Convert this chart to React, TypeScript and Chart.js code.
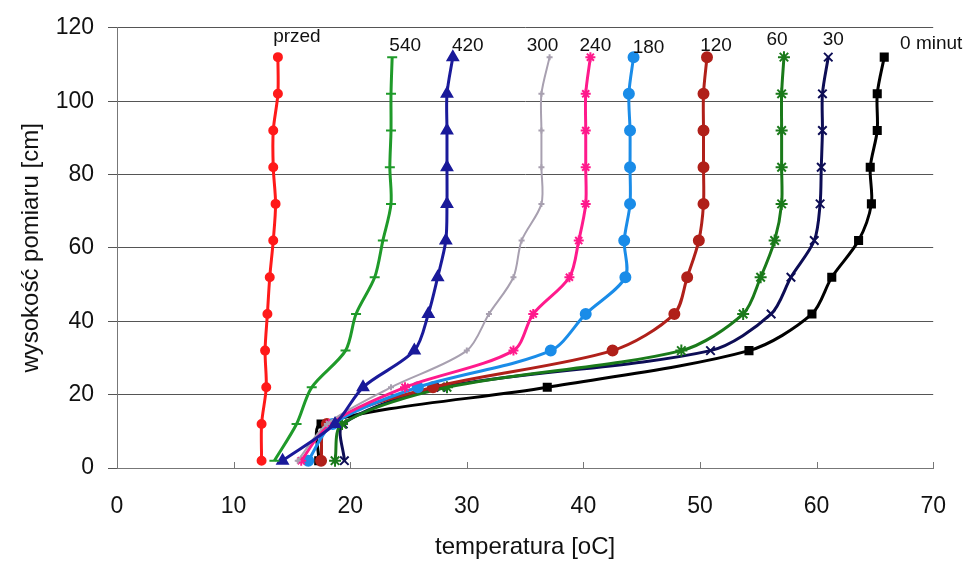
import React, { useEffect, useRef } from "react";
import { Chart, registerables } from "chart.js";

Chart.register(...registerables);

const heights = [2, 12, 22, 32, 42, 52, 62, 72, 82, 92, 102, 112];

const seriesNames = ["przed", "540", "420", "300", "240", "180", "120", "60", "30", "0 minut"];

const tPrzed = [12.4, 12.4, 12.8, 12.7, 12.9, 13.1, 13.4, 13.6, 13.4, 13.4, 13.8, 13.8];
const t540 = [13.5, 15.4, 16.7, 19.6, 20.5, 22.1, 22.8, 23.5, 23.4, 23.5, 23.5, 23.6];
const t420 = [14.2, 18.7, 21.1, 25.5, 26.7, 27.5, 28.2, 28.3, 28.3, 28.3, 28.3, 28.8];
const t300 = [15.5, 18.0, 23.5, 30.0, 31.9, 34.0, 34.7, 36.4, 36.4, 36.4, 36.4, 37.1];
const t240 = [15.8, 18.2, 24.7, 34.0, 35.7, 38.8, 39.6, 40.2, 40.2, 40.2, 40.2, 40.6];
const t180 = [16.4, 18.5, 25.8, 37.2, 40.2, 43.6, 43.5, 44.0, 44.0, 44.0, 43.9, 44.3];
const t120 = [17.5, 18.0, 27.1, 42.5, 47.8, 48.9, 49.9, 50.3, 50.3, 50.3, 50.3, 50.6];
const t60 = [18.7, 19.3, 28.3, 48.4, 53.7, 55.2, 56.4, 57.0, 57.0, 57.0, 57.0, 57.2];
const t30 = [19.5, 19.4, 27.8, 50.9, 56.1, 57.8, 59.8, 60.3, 60.4, 60.5, 60.5, 61.0];
const t0 = [17.3, 17.5, 36.9, 54.2, 59.6, 61.3, 63.6, 64.7, 64.6, 65.2, 65.2, 65.8];

const seriesValues = [tPrzed, t540, t420, t300, t240, t180, t120, t60, t30, t0];

const xTicks = [0, 10, 20, 30, 40, 50, 60, 70];
const yTicks = [0, 20, 40, 60, 80, 100, 120];

const colors = ["#ff1a1a", "#1f9a2a", "#1a1a9a", "#a8a0b0", "#ff1a8c", "#1a8ce8", "#b0201a", "#1a7a1a", "#0d0d55", "#000000"];
const pointStyles = ["circle", "line", "triangle", "cross", "star", "circle", "circle", "star", "crossRot", "rect"];
const pointRadii = [4, 5, 6, 3, 5, 5, 5, 6, 6, 5];
const lineWidths = [3, 3, 3, 2, 3, 3, 3, 3, 3, 3];
// label offsets in pixels from the top point of each series
const labelDx = [19, 13, 15, -7, 5, 15, 9, -7, 5, 47];
const labelDy = [-20, -11, -11, -11, -11, -9, -11, -17, -17, -13];

const FONT = "Arial, 'Liberation Sans', sans-serif";

const seriesLabelsPlugin = {
  id: "seriesLabels",
  afterDatasetsDraw(chart: any) {
    const ctx = chart.ctx;
    ctx.save();
    ctx.font = `19px ${FONT}`;
    ctx.fillStyle = "#111";
    ctx.textAlign = "center";
    ctx.textBaseline = "middle";
    chart.data.datasets.forEach((ds: any, i: number) => {
      const meta = chart.getDatasetMeta(i);
      const pts = meta.data;
      const last = pts[pts.length - 1];
      if (!last) return;
      ctx.fillText(ds.label, last.x + labelDx[i], last.y + labelDy[i]);
    });
    ctx.restore();
  },
};

const innerTicksPlugin = {
  id: "innerTicks",
  afterDraw(chart: any) {
    const ctx = chart.ctx;
    const xs = chart.scales.x;
    const bottom = chart.chartArea.bottom;
    ctx.save();
    ctx.strokeStyle = "#777";
    ctx.lineWidth = 1;
    xTicks.forEach((v) => {
      if (v === 0) return;
      const px = Math.round(xs.getPixelForValue(v)) + 0.5;
      ctx.beginPath();
      ctx.moveTo(px, bottom);
      ctx.lineTo(px, bottom - 6);
      ctx.stroke();
    });
    ctx.restore();
  },
};

export default function App() {
  const canvasRef = useRef<HTMLCanvasElement | null>(null);

  useEffect(() => {
    if (!canvasRef.current) return;
    const datasets = seriesValues.map((vals, i) => ({
      label: seriesNames[i],
      data: vals.map((t, j) => ({ x: t, y: heights[j] })),
      showLine: true,
      borderColor: colors[i],
      backgroundColor: colors[i],
      borderWidth: lineWidths[i],
      pointStyle: pointStyles[i],
      pointRadius: pointRadii[i],
      pointBorderWidth: 2,
      tension: 0.3,
    }));

    const chart = new Chart(canvasRef.current, {
      type: "scatter",
      data: { datasets },
      options: {
        animation: false,
        responsive: false,
        events: [],
        layout: { padding: { left: 0, top: 25, right: 37, bottom: 0 } },
        plugins: {
          legend: { display: false },
          tooltip: { enabled: false },
        },
        scales: {
          x: {
            type: "linear",
            min: 0,
            max: 70,
            afterBuildTicks: (scale: any) => {
              scale.ticks = xTicks.map((v) => ({ value: v }));
            },
            afterFit: (scale: any) => {
              scale.height = 95;
            },
            grid: { display: true, drawOnChartArea: false, drawTicks: false },
            border: { display: true, color: "#777", width: 1 },
            ticks: {
              font: { family: FONT, size: 23 },
              color: "#111",
              padding: 25,
            },
            title: {
              display: true,
              text: "temperatura [oC]",
              font: { family: FONT, size: 24 },
              color: "#111",
              padding: { top: 0, bottom: 1 },
            },
          },
          y: {
            type: "linear",
            min: 0,
            max: 120,
            afterBuildTicks: (scale: any) => {
              scale.ticks = yTicks.map((v) => ({ value: v }));
            },
            afterFit: (scale: any) => {
              scale.width = 117;
            },
            grid: { color: "#555", lineWidth: 1, tickLength: 9, drawTicks: true },
            border: { display: true, color: "#777", width: 1 },
            ticks: {
              font: { family: FONT, size: 23 },
              color: "#111",
              padding: 14,
            },
            title: {
              display: true,
              text: "wysokość pomiaru [cm]",
              font: { family: FONT, size: 24 },
              color: "#111",
              padding: { top: 17, bottom: 0 },
            },
          },
        },
      },
      plugins: [seriesLabelsPlugin, innerTicksPlugin],
    });
    return () => chart.destroy();
  }, []);

  return (
    <div style={{ position: "fixed", left: 0, top: 0, width: 971, height: 563, background: "#fff" }}>
      <canvas ref={canvasRef} width={971} height={563} />
    </div>
  );
}
